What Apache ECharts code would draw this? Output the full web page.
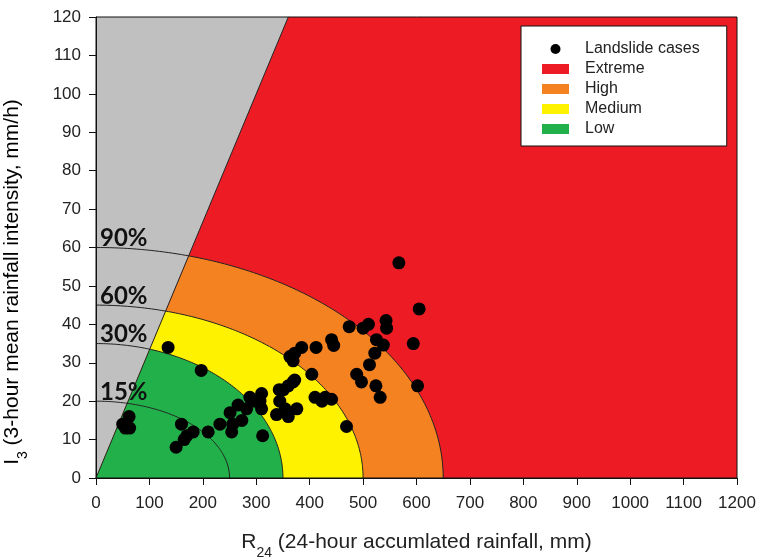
<!DOCTYPE html>
<html>
<head>
<meta charset="utf-8">
<script src="https://cdn.jsdelivr.net/npm/echarts@6/dist/echarts.min.js"></script>
<style>html,body{margin:0;padding:0;background:#fff;}#c{width:759px;height:559px;}</style>
</head>
<body>
<div id="c"></div>
<script>
// ---- data ----
var landslideR24 = [50, 62, 63, 55, 135, 197, 150, 160, 165, 170, 182, 210, 232, 251, 254, 256, 266, 273, 282, 288, 298, 307, 310, 310, 312,
  338, 343, 344, 351, 354, 360, 360, 369, 372, 376, 410, 423, 429, 441, 469, 404,
  363, 369, 372, 385, 412, 441, 445, 474, 488, 497, 500, 510, 512, 522, 524, 525, 532, 538, 543, 544, 567, 594, 602, 605];
var landslideI3 = [14, 16, 13, 13, 34, 28, 8, 14, 10, 11, 12, 12, 14, 17, 12, 14, 19, 15, 18, 21, 20, 20, 22, 18, 11,
  16.5, 23, 20, 23, 18, 24, 16, 25, 25.5, 18, 21, 20, 21, 20.5, 13.4, 27,
  31.6, 30.5, 32.5, 34, 34, 36, 34.5, 39.4, 27, 25, 39, 40, 29.5, 32.5, 24, 36, 21, 34.6, 41, 39, 56, 35, 24, 44];
var levelNames = ['Low', 'Medium', 'High'];
var levelColors = ['#22B04B', '#FFF200', '#F58220'];
var ellipseR24 = [350, 500, 650];      // outer R24 radius of each level
var ellipseI3 = [35, 45, 60];          // outer I3 radius of each level
var arcLabels = ['15%', '30%', '60%', '90%'];
var arcR24 = [250, 350, 500, 650];
var arcI3 = [20, 35, 45, 60];
var boundaryR24 = [0, 360];           // gray zone boundary line
var boundaryI3 = [0, 120];
var xTicks = {min: 0, max: 1200, interval: 100};
var yTicks = {min: 0, max: 120, interval: 10};

var slope = boundaryI3[1] / boundaryR24[1];

function arcPoints(a, b, t0, t1, n) {
  var pts = [];
  for (var i = 0; i <= n; i++) {
    var t = t0 + (t1 - t0) * i / n;
    pts.push([a * Math.cos(t), b * Math.sin(t)]);
  }
  return pts;
}
function regionPoints(a, b) {
  var xi = 1 / Math.sqrt(1 / (a * a) + (slope * slope) / (b * b));
  var yi = slope * xi;
  var t0 = Math.atan2(yi / b, xi / a);
  return [[0, 0]].concat(arcPoints(a, b, t0, 0, 80));
}
function polySeries(name, color, ptsFn, z) {
  return {
    type: 'custom', name: name, z: z, silent: true,
    itemStyle: {color: color},
    data: [[0, 0]],
    renderItem: function (params, api) {
      var pts = ptsFn().map(function (p) { return api.coord(p); });
      return {type: 'polygon', shape: {points: pts}, style: {fill: color, stroke: null}};
    }
  };
}

var series = [];
series.push(polySeries('gray', '#C0C0C0', function () {
  return [[0, 0], [0, yTicks.max], [boundaryR24[1], boundaryI3[1]]];
}, 1));
series.push(polySeries('Extreme', '#ED1C24', function () {
  return [[0, 0], [boundaryR24[1], boundaryI3[1]], [xTicks.max, yTicks.max], [xTicks.max, 0]];
}, 1));
for (var k = levelNames.length - 1; k >= 0; k--) {
  (function (k) {
    series.push(polySeries(levelNames[k], levelColors[k], function () {
      return regionPoints(ellipseR24[k], ellipseI3[k]);
    }, 2 + (levelNames.length - k)));
  })(k);
}
// arcs, boundary line, labels
series.push({
  type: 'custom', name: 'arcs', z: 10, silent: true,
  data: arcR24.map(function (a, i) { return [a, arcI3[i], i]; }),
  renderItem: function (params, api) {
    var i = params.dataIndex;
    var pts = arcPoints(arcR24[i], arcI3[i], Math.PI / 2, 0, 120).map(function (p) { return api.coord(p); });
    var top = api.coord([0, arcI3[i]]);
    return {
      type: 'group',
      children: [
        {type: 'polyline', shape: {points: pts}, style: {stroke: '#222', lineWidth: 1, fill: null}},
        {type: 'text', x: top[0] + 4, y: top[1] + 3,
          style: {text: arcLabels[i], fill: '#111', font: 'bold 24px Lato, "Open Sans", sans-serif', textAlign: 'left', textVerticalAlign: 'bottom'}}
      ]
    };
  }
});
series.push({
  type: 'line', name: 'boundary', z: 11, silent: true, symbol: 'none',
  data: boundaryR24.map(function (x, i) { return [x, boundaryI3[i]]; }),
  lineStyle: {color: '#222', width: 1}
});
series.push({
  type: 'scatter', name: 'Landslide cases', z: 20,
  symbol: 'circle', symbolSize: 13,
  itemStyle: {color: '#000', opacity: 1},
  data: landslideR24.map(function (x, i) { return [x, landslideI3[i]]; })
});

var chart = echarts.init(document.getElementById('c'), null, {renderer: 'canvas'});
var font = '"Liberation Sans", Arial, sans-serif';
var nameRich = {
  m: {fontFamily: font, fontSize: 21, color: '#222', lineHeight: 28, verticalAlign: 'top'},
  s: {fontFamily: font, fontSize: 14, color: '#222', verticalAlign: 'bottom'}
};
chart.setOption({
  animation: false,
  backgroundColor: '#fff',
  grid: {left: 96, right: 22, top: 17, bottom: 81, outerBoundsMode: 'none', containLabel: false, show: true, borderColor: '#111', borderWidth: 1, backgroundColor: 'transparent', z: 30},
  legend: {
    orient: 'vertical', left: 521, top: 26,
    backgroundColor: '#fff', borderColor: '#111', borderWidth: 1,
    padding: [15, 27, 9, 21], itemGap: 4, itemWidth: 27, itemHeight: 10,
    textStyle: {fontFamily: font, fontSize: 16, color: '#222', padding: [0, 0, 0, 11]},
    selectedMode: false,
    data: [
      {name: 'Landslide cases', icon: 'circle'},
      {name: 'Extreme', icon: 'rect'},
      {name: 'High', icon: 'rect'},
      {name: 'Medium', icon: 'rect'},
      {name: 'Low', icon: 'rect'}
    ]
  },
  graphic: [{
    type: 'text', x: 16, y: 282, rotation: Math.PI / 2, z: 100,
    style: {
      text: '{m|I}{s|3}{m| (3-hour mean rainfall intensity, mm/h)}',
      rich: nameRich, align: 'center', verticalAlign: 'middle'
    }
  }],
  xAxis: {
    type: 'value', min: xTicks.min, max: xTicks.max, interval: xTicks.interval,
    splitLine: {show: false},
    axisLine: {onZero: false, lineStyle: {color: '#111', width: 1}},
    axisTick: {length: 7, lineStyle: {color: '#111'}},
    axisLabel: {fontFamily: font, fontSize: 17, color: '#222', margin: 17, formatter: function (v) { return String(v); }},
    name: '{m|R}{s|24}{m| (24-hour accumlated rainfall, mm)}',
    nameLocation: 'middle', nameGap: 54,
    nameTextStyle: {rich: nameRich},
    z: 31
  },
  yAxis: {
    type: 'value', min: yTicks.min, max: yTicks.max, interval: yTicks.interval,
    splitLine: {show: false},
    axisLine: {onZero: false, lineStyle: {color: '#111', width: 1}},
    axisTick: {length: 7, lineStyle: {color: '#111'}},
    axisLabel: {fontFamily: font, fontSize: 17, color: '#222', margin: 15, formatter: function (v) { return String(v); }},
    z: 31
  },
  series: series
});
</script>
</body>
</html>
